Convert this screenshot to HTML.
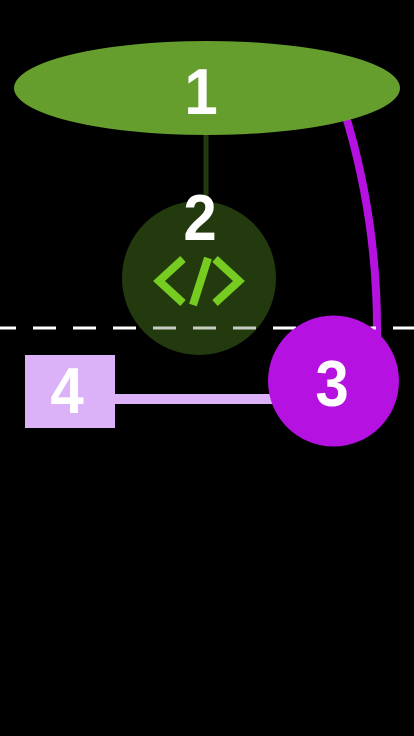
<!DOCTYPE html>
<html><head><style>html,body{margin:0;padding:0;background:#000;width:414px;height:736px;overflow:hidden}</style></head>
<body>
<svg width="414" height="736" viewBox="0 0 414 736" xmlns="http://www.w3.org/2000/svg" style="display:block">
<rect width="414" height="736" fill="#000"/>
<path d="M344,110 Q378,220 377,336" fill="none" stroke="#b511e0" stroke-width="8"/>
<line x1="206" y1="130" x2="206" y2="205" stroke="#233a0e" stroke-width="5"/>
<rect x="110" y="394" width="170" height="10" fill="#dbb2f8"/>
<ellipse cx="207" cy="88" rx="193" ry="47" fill="#669e2e"/>
<circle cx="199" cy="278" r="77" fill="#233a0e"/>
<line x1="-7" y1="328" x2="420" y2="328" stroke="#fff" stroke-width="3" stroke-dasharray="23 17"/>
<circle cx="199" cy="278" r="77" fill="#233a0e" opacity="0.25"/>
<circle cx="333.5" cy="381" r="65.5" fill="#b511e0"/>
<rect x="25" y="355" width="90" height="73" fill="#dbb2f8"/>
<g stroke="#77cc22" stroke-width="8" fill="none">
<polyline points="183,259 159,281 183,303"/>
<polyline points="215,259 239,281 215,303"/>
<line x1="208" y1="258" x2="193" y2="305"/>
</g>
<g font-family="Liberation Sans, sans-serif" font-weight="bold" font-size="60" fill="#fff" text-anchor="middle">
<text transform="translate(201,114) scale(1,1.08)">1</text>
<text transform="translate(200,240) scale(1,1.08)">2</text>
<text transform="translate(332,406) scale(1,1.08)">3</text>
<text transform="translate(67,413) scale(1,1.08)">4</text>
</g>
</svg>
</body></html>
